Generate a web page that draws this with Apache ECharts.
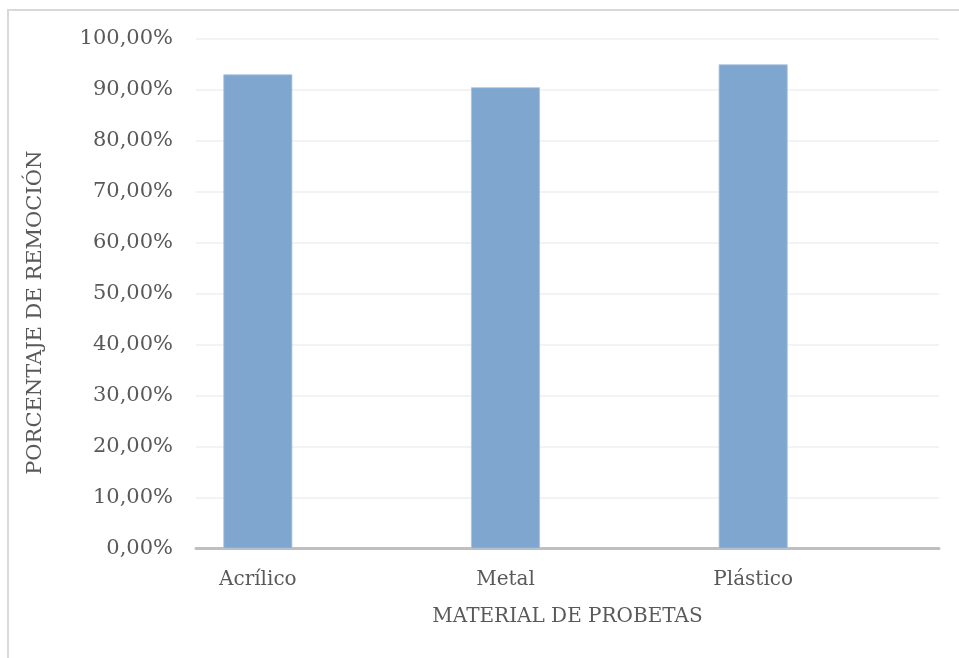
<!DOCTYPE html>
<html>
<head>
<meta charset="utf-8">
<script src="https://cdn.jsdelivr.net/npm/echarts@6/dist/echarts.min.js"></script>
<style>
  html, body { margin: 0; padding: 0; background: #ffffff; }
  #chart { width: 959px; height: 658px; }
</style>
</head>
<body>
<div id="chart"></div>
<script>
// Material categories and removal percentage (as fractions)
var categories = ['Acrílico', 'Metal', 'Plástico'];
var removal = [0.9305, 0.9052, 0.9503];
// Value axis range and step
var axisMin = 0;
var axisMax = 1;
var axisStep = 0.1;

var FONT = 'DejaVu Serif';
var TEXT_COLOR = '#595959';

function pct(v) {
  return (v * 100).toFixed(2).replace('.', ',') + '%';
}

var chart = echarts.init(document.getElementById('chart'), null, { renderer: 'canvas' });

chart.setOption({
  backgroundColor: '#ffffff',
  animation: false,
  graphic: [{
    type: 'rect',
    shape: { x: 8, y: 10, width: 1200, height: 1200 },
    style: { fill: 'none', stroke: '#D9D9D9', lineWidth: 2 },
    silent: true,
    z: -10
  }],
  grid: [
    { left: 196, right: 20, top: 39, bottom: 109.5 },
    { left: 134, right: 82, top: 39, bottom: 109.5 }
  ],
  xAxis: [
    {
      gridIndex: 0,
      type: 'value',
      min: 0,
      max: 1,
      axisLine: { show: true, lineStyle: { color: '#BFBFBF', width: 3 } },
      axisTick: { show: false },
      axisLabel: { show: false },
      splitLine: { show: false },
      name: 'MATERIAL DE PROBETAS',
      nameLocation: 'middle',
      nameGap: 58,
      nameTextStyle: { fontFamily: FONT, fontSize: 20, color: TEXT_COLOR }
    },
    {
      gridIndex: 1,
      type: 'category',
      data: categories,
      axisLine: { show: false },
      axisTick: { show: false },
      axisLabel: { margin: 21, fontFamily: FONT, fontSize: 20, color: TEXT_COLOR },
      splitLine: { show: false }
    }
  ],
  yAxis: [
    {
      gridIndex: 0,
      type: 'value',
      min: axisMin,
      max: axisMax,
      interval: axisStep,
      axisLine: { show: false },
      axisTick: { show: false },
      axisLabel: { margin: 23, fontFamily: FONT, fontSize: 21, color: TEXT_COLOR, formatter: pct },
      splitLine: { show: true, lineStyle: { color: '#EFEFEF', width: 1.5 } },
      name: 'PORCENTAJE DE REMOCIÓN',
      nameLocation: 'middle',
      nameGap: 150,
      nameTextStyle: { fontFamily: FONT, fontSize: 21, color: TEXT_COLOR, padding: [0, 38, 0, 0] }
    },
    {
      gridIndex: 1,
      type: 'value',
      min: axisMin,
      max: axisMax,
      interval: axisStep,
      show: false
    }
  ],
  series: [{
    type: 'bar',
    xAxisIndex: 1,
    yAxisIndex: 1,
    data: removal,
    barWidth: 69,
    itemStyle: { color: '#7FA6CF', borderColor: '#A9C3E0', borderWidth: 0.8 }
  }]
});
</script>
</body>
</html>
